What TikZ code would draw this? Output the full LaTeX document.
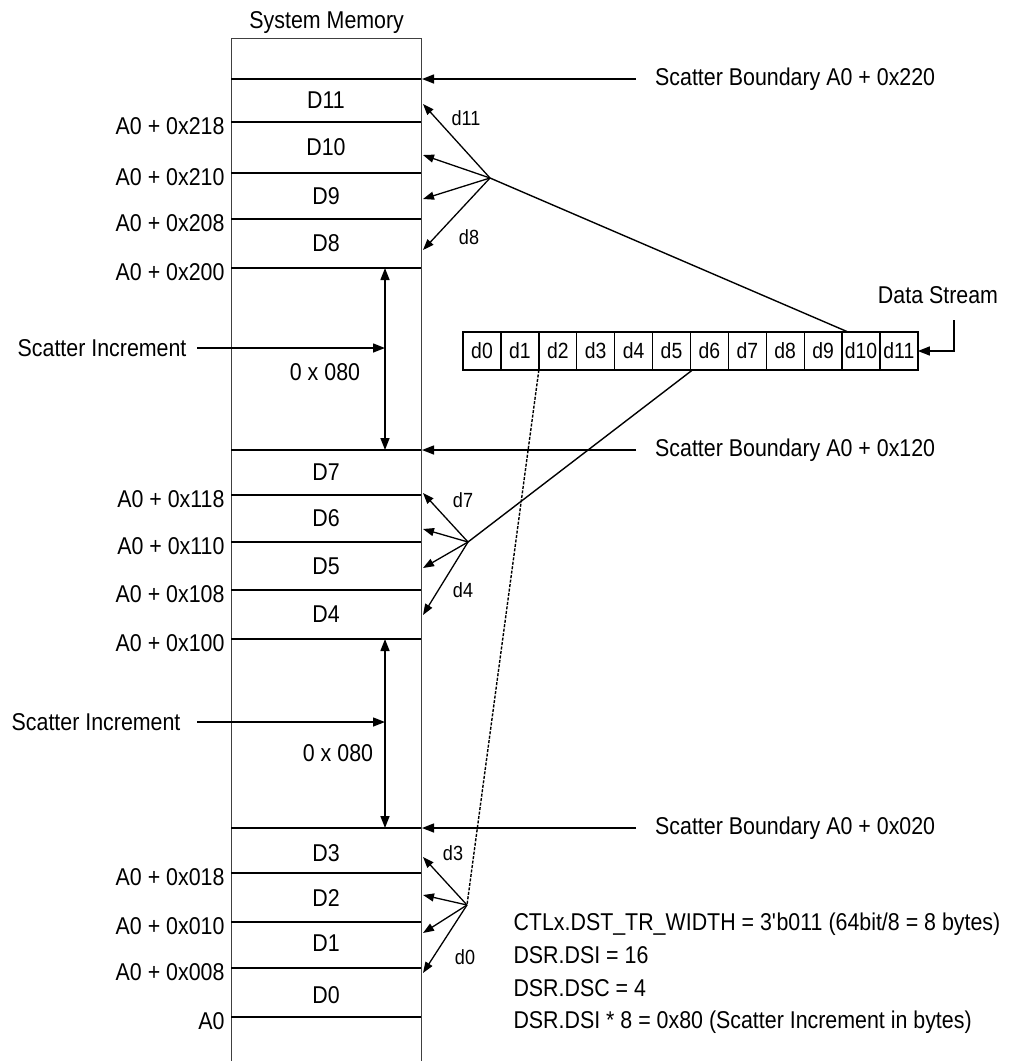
\documentclass[tikz,border=0pt]{standalone}
\usepackage{fontspec}
\setmainfont{Liberation Sans}[FakeStretch=0.88]
\usetikzlibrary{arrows.meta, positioning, calc}

\tikzset{
  memline/.style={line width=1.4pt},
  tip/.style={-{Triangle[length=12pt,width=9pt]}, line width=1.4pt},
  dbl/.style={{Triangle[length=12pt,width=9pt]}-{Triangle[length=12pt,width=9pt]}, line width=1.4pt},
  fanarrow/.style={-{Triangle[length=11pt,width=8pt]}, line width=1.3pt},
  cell/.style={draw, line width=1.3pt, minimum width=37.9pt, minimum height=38pt,
               inner sep=0pt, outer sep=0pt, font=\fontsize{22}{24}\selectfont},
  lbl/.style={font=\fontsize{24.3}{27}\selectfont},
  small/.style={font=\fontsize{20.5}{23}\selectfont},
}

\begin{document}
\begin{tikzpicture}[x=1pt, y=-1pt]
  \useasboundingbox (0,0) rectangle (1010,1061);

  % memory column
  \node[draw=black!75, memline, minimum width=190pt, minimum height=1040pt,
        anchor=north west, inner sep=0pt] (mem) at (231,38) {};
  \node[lbl, above=1pt of mem] (title) {System Memory};

  % scatter boundaries
  \foreach \y/\txt [count=\i] in {79/0x220, 450/0x120, 828/0x020} {
    \draw[memline] (231,\y) -- (421,\y);
    \node[lbl, anchor=west, inner xsep=19pt] (sb\i) at (636,\y) {Scatter Boundary A0 + \txt};
    \draw[tip] (sb\i.west) -- (422,\y);
  }

  % address lines
  \foreach \y/\txt [count=\i] in {122/A0 + 0x218, 173/A0 + 0x210, 219/A0 + 0x208, 268/A0 + 0x200,
                                  495/A0 + 0x118, 542/A0 + 0x110, 590/A0 + 0x108, 639/A0 + 0x100,
                                  873/A0 + 0x018, 922/A0 + 0x010, 968/A0 + 0x008, 1017/A0} {
    \draw[memline] (231,\y) -- (421,\y);
    \node[lbl, anchor=east] (adr\i) at (228,\y+4) {\txt};
  }

  % data words
  \foreach \n/\y in {D11/100, D10/147, D9/196, D8/243, D7/472, D6/518, D5/566, D4/614,
                     D3/853, D2/898, D1/943, D0/995}
    \node[lbl] (\n) at (326,\y) {\n};

  % scatter increments
  \coordinate (v1a) at (385,268);
  \coordinate (v1b) at (385,450);
  \coordinate (v2a) at (385,639);
  \coordinate (v2b) at (385,828);
  \draw[dbl] (v1a) -- (v1b);
  \draw[dbl] (v2a) -- (v2b);
  \node[lbl, anchor=east] (si1) at (190,348) {Scatter Increment};
  \node[lbl, anchor=east] (si2) at (184,722) {Scatter Increment};
  \draw[tip] ([xshift=7pt]si1.east) -- (si1 -| v1a);
  \draw[tip] ([xshift=13pt]si2.east) -- (si2 -| v2a);
  \node[lbl] (inc1) at (325,372) {0 x 080};
  \node[lbl] (inc2) at (338,753) {0 x 080};

  % data stream
  \node[cell] (d0) at (482,351) {d0};
  \foreach \i [remember=\i as \j (initially 0)] in {1,...,11}
    \node[cell, right=0pt of d\j] (d\i) {d\i};
  \node[lbl] (ds) at (938,295) {Data Stream};
  \draw[tip] ([xshift=16pt,yshift=-13pt]ds.south) |- (d11.east);

  % fan out to memory
  \coordinate (f1) at (490,178);
  \coordinate (f2) at (468,542);
  \coordinate (f3) at (467,905);
  \foreach \y [count=\i] in {104,155,199,250} {
    \coordinate (a1\i) at (423,\y);
    \draw[fanarrow] (f1) -- (a1\i);
  }
  \foreach \y [count=\i] in {493,529,568,615} {
    \coordinate (a2\i) at (423,\y);
    \draw[fanarrow] (f2) -- (a2\i);
  }
  \foreach \y [count=\i] in {857,895,933,973} {
    \coordinate (a3\i) at (423,\y);
    \draw[fanarrow] (f3) -- (a3\i);
  }
  \draw[memline] (f1) -- ([xshift=6pt]d10.north west);
  \draw[memline] (f2) -- ([xshift=2pt]d6.south west);
  \draw[line width=1.4pt, dash pattern=on 3pt off 1.5pt] (d2.south west) -- (f3);

  \node[small] (l11) at (466,118) {d11};
  \node[small] (l8) at (469,237) {d8};
  \node[small] (l7) at (463,500) {d7};
  \node[small] (l4) at (463,590) {d4};
  \node[small] (l3) at (453,853) {d3};
  \node[small] (l0) at (465,957) {d0};

  % register settings
  \foreach \y/\txt [count=\i] in {930.6/{CTLx.DST\_TR\_WIDTH = 3\textquotesingle b011 (64bit/8 = 8 bytes)},
                                  963.6/{DSR.DSI = 16},
                                  996.6/{DSR.DSC = 4},
                                  1028.6/{DSR.DSI * 8 = 0x80 (Scatter Increment in bytes)}}
    \node[lbl, anchor=base west] (reg\i) at (510,\y) {\txt};
\end{tikzpicture}
\end{document}
